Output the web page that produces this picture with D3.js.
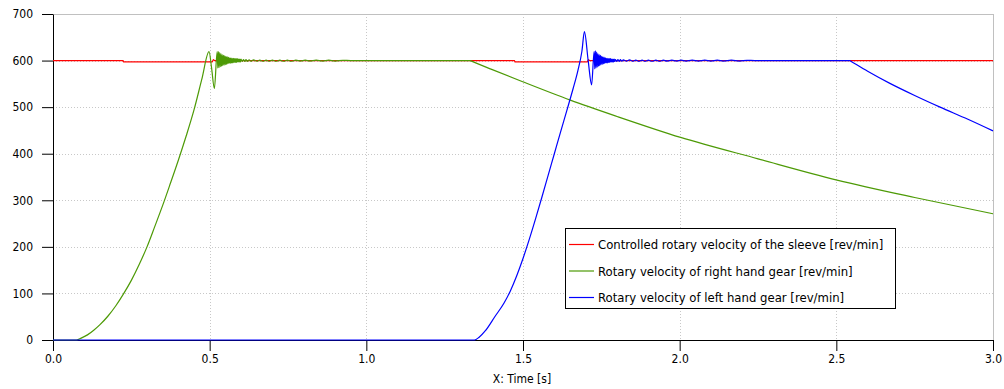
<!DOCTYPE html>
<html><head><meta charset="utf-8">
<script src="https://cdn.jsdelivr.net/npm/d3@7"></script>
<style>
body{margin:0;background:#fff;}
text{font-family:"DejaVu Sans Condensed","DejaVu Sans",sans-serif;}
</style>
</head><body>
<svg id="c" width="1004" height="389"></svg>
<script>
// ---------- data ----------
const xTicks = [0, 0.5, 1, 1.5, 2, 2.5, 3];
const xTickLabels = ["0.0", "0.5", "1.0", "1.5", "2.0", "2.5", "3.0"];
const yTicks = [0, 100, 200, 300, 400, 500, 600, 700];
const yTickLabels = ["0", "100", "200", "300", "400", "500", "600", "700"];
const xTitle = "X: Time [s]";
const seriesNames = [
  "Controlled rotary velocity of the sleeve [rev/min]",
  "Rotary velocity of right hand gear [rev/min]",
  "Rotary velocity of left hand gear [rev/min]"
];
const seriesColors = ["#ff0000", "#4d9a06", "#0000ff"];

// [time s, rev/min]
const sleeveSeries = [
  [0, 600], [0.224, 600], [0.225, 597], [0.508, 597], [0.512, 602], [0.516, 600],
  [1.473, 600], [1.474, 597], [1.705, 597], [1.709, 602], [1.713, 600], [3.0, 600]
];

const rightGearSeries = [
  [0, 0], [0.075, 0], [0.09, 4], [0.11, 11], [0.13, 21], [0.15, 33], [0.175, 51],
  [0.20, 73], [0.225, 99], [0.25, 128], [0.275, 162], [0.30, 200], [0.325, 244],
  [0.35, 289], [0.375, 337], [0.40, 386], [0.425, 438], [0.45, 494], [0.475, 560],
  [0.498, 619],
  [0.506, 585], [0.515, 540], [0.524, 619],
  [0.526, 584], [0.528, 619], [0.530, 585], [0.532, 617], [0.534, 587], [0.536, 615],
  [0.538, 588], [0.540, 613], [0.542, 589], [0.544, 611], [0.546, 590], [0.548, 610],
  [0.550, 591], [0.552, 609], [0.554, 592], [0.556, 608], [0.558, 593], [0.560, 607],
  [0.562, 594], [0.564, 606], [0.566, 594], [0.568, 606], [0.570, 595], [0.572, 605],
  [0.574, 595], [0.576, 605], [0.578, 596], [0.580, 604], [0.582, 596], [0.584, 604],
  [0.586, 596], [0.588, 604], [0.590, 597], [0.592, 603], [0.594, 597], [0.596, 603],
  [0.598, 597], [0.600, 603], [0.604, 598], [0.608, 602], [0.612, 598], [0.616, 602],
  [0.620, 598], [0.626, 601.5], [0.632, 598.5], [0.640, 601.5], [0.650, 598.5],
  [0.660, 601], [0.670, 598.5], [0.680, 601], [0.690, 598.5], [0.700, 601],
  [0.712, 598.5], [0.724, 601], [0.736, 598.5], [0.748, 601], [0.760, 598.5],
  [0.775, 601], [0.790, 599], [0.805, 601], [0.820, 599], [0.840, 601], [0.860, 599],
  [0.880, 601], [0.900, 599], [0.925, 600.5], [0.950, 600],
  [1.332, 600], [1.334, 599.4], [1.40, 581], [1.497, 555], [1.651, 515], [1.80, 480],
  [2.003, 435], [2.25, 389], [2.499, 344], [2.75, 306], [3.0, 271]
];

const leftGearSeries = [
  [0, 0], [1.345, 0], [1.36, 6], [1.38, 20], [1.41, 50], [1.44, 80], [1.46, 106],
  [1.48, 138], [1.50, 175], [1.52, 216], [1.54, 260], [1.56, 306], [1.58, 353],
  [1.60, 400], [1.62, 447], [1.64, 493], [1.66, 540], [1.675, 578], [1.688, 620],
  [1.696, 662],
  [1.708, 600], [1.719, 548], [1.727, 619],
  [1.729, 582], [1.731, 621], [1.733, 584], [1.735, 618], [1.737, 586], [1.739, 615],
  [1.741, 588], [1.743, 613], [1.745, 589], [1.747, 611], [1.749, 591], [1.751, 609],
  [1.753, 592], [1.755, 608], [1.757, 593], [1.759, 607], [1.761, 594], [1.763, 606],
  [1.765, 595], [1.767, 605], [1.769, 595], [1.771, 605], [1.773, 596], [1.775, 604],
  [1.777, 596], [1.779, 604], [1.781, 597], [1.783, 603], [1.785, 597], [1.787, 603],
  [1.789, 597], [1.791, 603], [1.793, 598], [1.795, 602], [1.799, 598], [1.803, 602],
  [1.807, 598], [1.811, 602], [1.815, 598.5], [1.820, 601.5], [1.830, 598.5],
  [1.840, 601.5], [1.850, 598.5], [1.860, 601], [1.870, 598.5], [1.880, 601],
  [1.890, 598.5], [1.900, 601], [1.912, 598.5], [1.924, 601], [1.936, 598.5],
  [1.948, 601], [1.960, 599], [1.975, 601], [1.990, 599], [2.005, 601], [2.020, 599],
  [2.040, 601], [2.060, 599], [2.080, 601], [2.100, 599], [2.120, 601], [2.140, 599],
  [2.165, 601], [2.190, 599], [2.215, 600.5], [2.240, 600],
  [2.543, 600], [2.545, 599.2], [2.60, 577], [2.671, 551], [2.75, 525], [2.831, 500],
  [2.92, 474], [3.0, 449]
];

// ---------- chart ----------
const svg = d3.select("#c");
const x = d3.scaleLinear().domain([0, 3]).range([53, 993]);
const y = d3.scaleLinear().domain([0, 700]).range([340, 14]);

const grid = svg.append("g");
grid.selectAll("line.gx").data(xTicks.slice(1, -1)).join("line")
  .attr("x1", d => Math.round(x(d)) + 0.5).attr("x2", d => Math.round(x(d)) + 0.5)
  .attr("y1", y(700)).attr("y2", y(0))
  .attr("stroke", "#c8c8c8").attr("stroke-dasharray", "1,2");
grid.selectAll("line.gy").data(yTicks.slice(1, -1)).join("line")
  .attr("y1", d => Math.round(y(d)) + 0.5).attr("y2", d => Math.round(y(d)) + 0.5)
  .attr("x1", x(0)).attr("x2", x(3))
  .attr("stroke", "#c8c8c8").attr("stroke-dasharray", "1,2");
grid.append("line").attr("x1", x(0)).attr("x2", Math.round(x(3)) + 0.5)
  .attr("y1", Math.round(y(700)) + 0.5).attr("y2", Math.round(y(700)) + 0.5)
  .attr("stroke", "#c0c0c0");
grid.append("line").attr("x1", Math.round(x(3)) + 0.5).attr("x2", Math.round(x(3)) + 0.5)
  .attr("y1", y(700)).attr("y2", y(0)).attr("stroke", "#c0c0c0");

// axes
const minorX = d3.range(0, 31).map(i => i / 10).filter(v => !xTicks.some(t => Math.abs(t - v) < 1e-9));
const minorY = d3.range(0, 36).map(i => i * 20).filter(v => v % 100 !== 0);

const gx = svg.append("g").attr("transform", `translate(0,${Math.round(y(0))})`);
gx.call(d3.axisBottom(x).tickValues(minorX).tickSize(6).tickSizeOuter(0).tickFormat(""));
gx.call(d3.axisBottom(x).tickValues(xTicks).tickSize(11).tickSizeOuter(0).tickPadding(3)
  .tickFormat((d, i) => xTickLabels[i]));

const gy = svg.append("g").attr("transform", `translate(${Math.round(x(0))},0)`);
gy.call(d3.axisLeft(y).tickValues(minorY).tickSize(6).tickSizeOuter(0).tickFormat(""));
gy.call(d3.axisLeft(y).tickValues(yTicks).tickSize(11).tickSizeOuter(0).tickPadding(9)
  .tickFormat((d, i) => yTickLabels[i]));

svg.selectAll(".tick text").attr("font-size", 12).attr("fill", "#000")
  .style("font-family", '"DejaVu Sans Condensed","DejaVu Sans",sans-serif');
svg.selectAll(".domain, .tick line").attr("stroke", "#000");

svg.append("text").attr("x", 522).attr("y", 383).attr("text-anchor", "middle")
  .attr("font-size", 12).attr("fill", "#000").text(xTitle);

// series (drawn over the axes, as in the reference)
const line = d3.line().x(d => x(d[0])).y(d => y(d[1])).curve(d3.curveMonotoneX);
const allSeries = [sleeveSeries, rightGearSeries, leftGearSeries];
svg.append("g").selectAll("path").data(allSeries).join("path")
  .attr("d", line).attr("fill", "none")
  .attr("stroke", (d, i) => seriesColors[i]).attr("stroke-width", 1.2);

// legend
const lg = svg.append("g");
lg.append("rect").attr("x", 565.5).attr("y", 228.5).attr("width", 330).attr("height", 80)
  .attr("fill", "#fff").attr("stroke", "#000");
const rows = lg.selectAll("g.row").data(seriesNames).join("g")
  .attr("transform", (d, i) => `translate(0,${244 + i * 26.5})`);
rows.append("line").attr("x1", 569).attr("x2", 594).attr("y1", 0.5).attr("y2", 0.5)
  .attr("stroke", (d, i) => seriesColors[i]).attr("stroke-width", 1.2);
rows.append("text").attr("x", 598).attr("y", 5).attr("font-size", 13).attr("fill", "#000")
  .text(d => d);
</script>
</body></html>
